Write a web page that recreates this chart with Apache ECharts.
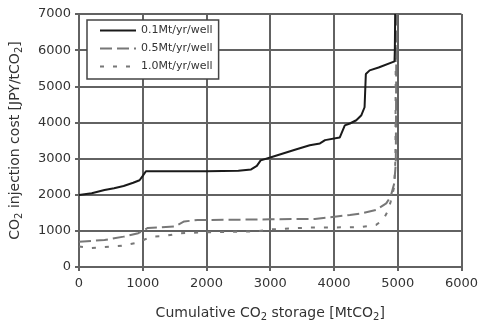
<!DOCTYPE html>
<html><head><meta charset="utf-8">
<script src="https://cdn.jsdelivr.net/npm/echarts@6/dist/echarts.min.js"></script>
<style>html,body{margin:0;padding:0;background:#fff}#c{width:481px;height:327px}</style>
</head><body><div id="c"></div>
<script>
var seriesNames = ['0.1Mt/yr/well', '0.5Mt/yr/well', '1.0Mt/yr/well'];
var s01X = [0, 200, 400, 550, 700, 850, 950, 1000, 1050, 1500, 2000, 2500, 2700, 2790, 2850, 3000, 3200, 3400, 3620, 3780, 3860, 4090, 4170, 4250, 4350, 4430, 4480, 4500, 4560, 4700, 4950, 4955, 4960];
var s01Y = [1990, 2040, 2130, 2180, 2240, 2330, 2400, 2520, 2650, 2650, 2650, 2660, 2700, 2800, 2950, 3030, 3140, 3250, 3370, 3420, 3510, 3580, 3920, 3970, 4060, 4200, 4420, 5340, 5440, 5520, 5690, 6000, 7000];
var s05X = [0, 400, 700, 930, 1000, 1080, 1500, 1650, 1860, 2500, 3000, 3700, 4250, 4450, 4660, 4820, 4890, 4945, 4970, 4980];
var s05Y = [700, 745, 840, 935, 1000, 1080, 1120, 1260, 1300, 1310, 1320, 1330, 1440, 1490, 1580, 1760, 1950, 2310, 2870, 7000];
var s10X = [0, 200, 670, 930, 1080, 1180, 1340, 1600, 1800, 2000, 2800, 3000, 3600, 4400, 4660, 4770, 4840, 4890, 4945, 4965, 4970];
var s10Y = [570, 525, 590, 680, 800, 845, 860, 935, 950, 960, 990, 1040, 1090, 1100, 1165, 1300, 1530, 1810, 2220, 3000, 7000];
var xTicks = [0, 1000, 2000, 3000, 4000, 5000, 6000];
var yTicks = [0, 1000, 2000, 3000, 4000, 5000, 6000, 7000];

function pairs(xs, ys) { return xs.map(function (x, i) { return [x, ys[i]]; }); }

var gridColor = '#626262';
var font = 'DejaVu Sans, Liberation Sans, sans-serif';
var chart = echarts.init(document.getElementById('c'));
chart.setOption({
  animation: false,
  backgroundColor: '#fff',
  grid: { left: 77, right: 18, top: 14, bottom: 60 },
  legend: {
    left: 87, top: 20, orient: 'vertical',
    backgroundColor: '#fff', borderColor: '#444', borderWidth: 1.5,
    padding: [5, 6, 7, 12], itemGap: 7, itemWidth: 36, itemHeight: 12,
    itemStyle: { opacity: 0 },
    textStyle: { fontFamily: font, fontSize: 11, color: '#333' },
    data: seriesNames
  },
  xAxis: {
    type: 'value', min: 0, max: 6000, interval: 1000,
    name: '{a|Cumulative CO}{s|2}{a| storage [MtCO}{s|2}{a|]}',
    nameLocation: 'middle', nameGap: 37,
    nameTextStyle: { rich: {
      a: { fontFamily: font, fontSize: 14, color: '#333' },
      s: { fontFamily: font, fontSize: 10, color: '#333', padding: [8, 0, 0, 0] }
    } },
    axisLine: { lineStyle: { color: gridColor, width: 2 } },
    axisTick: { show: true, length: 4, lineStyle: { color: gridColor, width: 2 } },
    axisLabel: { fontFamily: font, fontSize: 13, color: '#333', margin: 10,
      formatter: function (v) { return String(v); } },
    splitLine: { show: true, lineStyle: { color: gridColor, width: 2 } }
  },
  yAxis: {
    type: 'value', min: 0, max: 7000, interval: 1000,
    name: '{a|CO}{s|2}{a| injection cost [JPY/tCO}{s|2}{a|]}',
    nameLocation: 'middle', nameGap: 55,
    nameTextStyle: { rich: {
      a: { fontFamily: font, fontSize: 14, color: '#333' },
      s: { fontFamily: font, fontSize: 10, color: '#333', padding: [8, 0, 0, 0] }
    } },
    axisLine: { show: true, lineStyle: { color: gridColor, width: 2 } },
    axisTick: { show: true, length: 4, lineStyle: { color: gridColor, width: 2 } },
    axisLabel: { fontFamily: font, fontSize: 13, color: '#333', margin: 8,
      formatter: function (v) { return String(v); } },
    splitLine: { show: true, lineStyle: { color: gridColor, width: 2 } }
  },
  series: [
    { name: seriesNames[0], type: 'line', showSymbol: false, symbol: 'none', z: 5,
      data: pairs(s01X, s01Y), itemStyle: { color: '#1a1a1a' },
      lineStyle: { color: '#1a1a1a', width: 2 } },
    { name: seriesNames[1], type: 'line', showSymbol: false, symbol: 'none', z: 4,
      data: pairs(s05X, s05Y), itemStyle: { color: '#777' },
      lineStyle: { color: '#777', width: 2, type: [12, 5] } },
    { name: seriesNames[2], type: 'line', showSymbol: false, symbol: 'none', z: 3,
      data: pairs(s10X, s10Y), itemStyle: { color: '#777' },
      lineStyle: { color: '#777', width: 2, type: [4, 9] } }
  ]
});
</script></body></html>
